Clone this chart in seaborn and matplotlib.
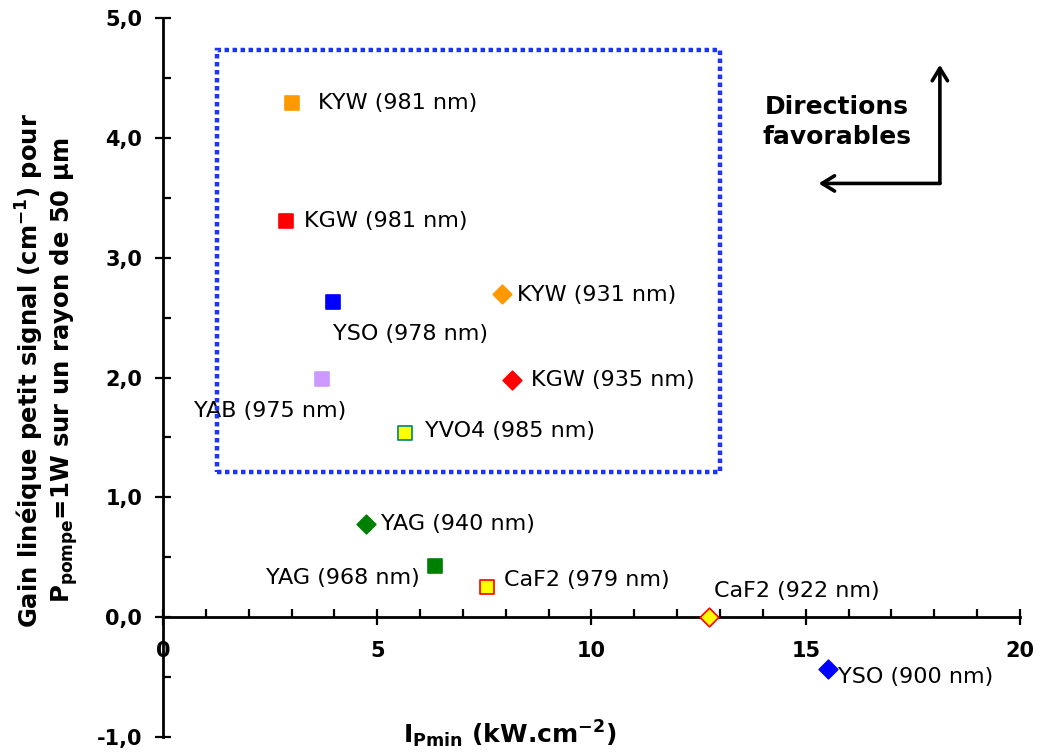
import numpy as np
import pandas as pd
import seaborn as sns
import matplotlib.pyplot as plt
from matplotlib.patches import Rectangle
from matplotlib.ticker import MultipleLocator

# values
labels = ["KYW (981 nm)", "KGW (981 nm)", "YSO (978 nm)", "YAB (975 nm)",
          "YVO4 (985 nm)", "KYW (931 nm)", "KGW (935 nm)", "YAG (940 nm)",
          "YAG (968 nm)", "CaF2 (979 nm)", "CaF2 (922 nm)", "YSO (900 nm)"]
ipmin = [3.01, 2.87, 3.97, 3.71, 5.65, 7.91, 8.14, 4.74, 6.35, 7.56, 12.74, 15.52]
gain = [4.29, 3.31, 2.63, 1.99, 1.54, 2.70, 1.98, 0.78, 0.43, 0.25, 0.0, -0.43]
shapes = ["s", "s", "s", "s", "s", "D", "D", "D", "s", "s", "D", "D"]
fills = ["#FF9900", "#FF0000", "#0000FF", "#CC99FF", "#FFFF00", "#FF9900",
         "#FF0000", "#008000", "#008000", "#FFFF00", "#FFFF00", "#0000FF"]
edges = ["#FF9900", "#FF0000", "#0000FF", "#CC99FF", "#008080", "#FF9900",
         "#FF0000", "#008000", "#008000", "#FF0000", "#FF0000", "#0000FF"]

df = pd.DataFrame({"Ipmin": ipmin, "Gain": gain, "label": labels,
                   "shape": shapes, "fill": fills, "edge": edges})

# label placement (offset in points, horizontal alignment)
offsets = [(19, 0, "left"), (13, 0, "left"), (0, -23, "left"), (-37, -23, "center"),
           (14, 1, "left"), (11, -1, "left"), (14, 0, "left"), (11, 0, "left"),
           (-11, -9, "right"), (12, 5, "left"), (4, 19, "left"), (7, -6, "left")]

sns.set_style("ticks")
plt.rcParams["font.family"] = ["DejaVu Sans"]
plt.rcParams["mathtext.default"] = "bf"
for k in ["text.color", "axes.labelcolor", "xtick.color", "ytick.color"]:
    plt.rcParams[k] = "black"

fig = plt.figure(figsize=(10.42, 7.56), dpi=100)
ax = fig.add_axes([0.1564, 0.0251, 0.8225, 0.951])

for i, row in df.iterrows():
    size = 110 if row["shape"] == "s" else 90
    sns.scatterplot(x=[row["Ipmin"]], y=[row["Gain"]], marker=row["shape"],
                    color=row["fill"], edgecolor=row["edge"], linewidth=1.2,
                    s=size, legend=False, ax=ax, zorder=4, clip_on=False)
    dx, dy, ha = offsets[i]
    ax.annotate(row["label"], (row["Ipmin"], row["Gain"]), xytext=(dx, dy),
                textcoords="offset points", ha=ha, va="center", fontsize=16)

# blue dotted box
ax.add_patch(Rectangle((1.26, 1.21), 13.0 - 1.26, 4.73 - 1.21, fill=False,
                       edgecolor="#1A33FF", lw=3.2, linestyle=(0, (1, 0.8)), zorder=3))

# arrows "Directions favorables"
arr = dict(arrowstyle="->,head_length=0.9,head_width=0.55", lw=2.6, color="black",
           shrinkA=0, shrinkB=0)
ax.annotate("", xy=(18.13, 4.61), xytext=(18.13, 3.62), arrowprops=arr)
ax.annotate("", xy=(15.3, 3.62), xytext=(18.13, 3.62), arrowprops=arr)
ax.text(15.72, 4.13, "Directions\nfavorables", ha="center", va="center",
        fontsize=18, fontweight="bold", linespacing=1.3)

ax.set_xlim(0, 20)
ax.set_ylim(-1, 5)
for s in ["top", "right"]:
    ax.spines[s].set_visible(False)
ax.spines["left"].set_position(("data", 0))
ax.spines["bottom"].set_position(("data", 0))
for s in ["left", "bottom"]:
    ax.spines[s].set_linewidth(2)
    ax.spines[s].set_color("black")

xt = [0, 5, 10, 15, 20]
yt = [-1, 0, 1, 2, 3, 4, 5]
ax.set_xticks(xt)
ax.set_xticklabels([str(v) for v in xt], fontweight="semibold")
ax.set_yticks(yt)
ax.set_yticklabels([f"{v:.1f}".replace(".", ",") for v in yt], fontweight="semibold")
ax.xaxis.set_minor_locator(MultipleLocator(1))
ax.yaxis.set_minor_locator(MultipleLocator(0.5))
ax.tick_params(which="both", bottom=True, left=True, top=False, right=False)
ax.tick_params(which="major", direction="inout", length=12, width=1.6,
               labelsize=15, color="black")
ax.tick_params(which="minor", direction="in", length=5.5, width=1.6, color="black")
ax.tick_params(axis="x", which="major", pad=11)
ax.tick_params(axis="y", which="major", pad=9)

ax.set_xlabel("I$_{Pmin}$ (kW.cm$^{-2}$)", fontsize=18, fontweight="bold")
ax.xaxis.set_label_coords(0.405, 0.025)
ax.set_ylabel("Gain linéique petit signal (cm$^{-1}$) pour\n"
              "P$_{pompe}$=1W sur un rayon de 50 µm",
              fontsize=17.5, fontweight="bold", linespacing=1.1)
ax.yaxis.set_label_coords(-0.097, 0.51)

fig.savefig("out.png", dpi=100)
